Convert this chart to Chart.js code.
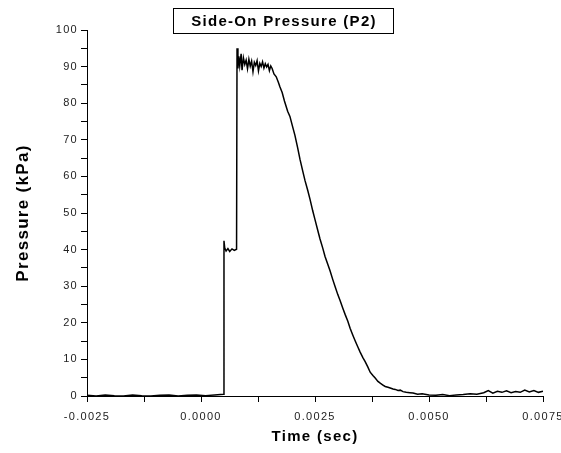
<!DOCTYPE html>
<html><head><meta charset="utf-8">
<script src="https://cdn.jsdelivr.net/npm/chart.js@4/dist/chart.umd.min.js"></script>
<style>html,body{margin:0;padding:0;background:#fff;} #wrap{position:relative;width:561px;height:453px;}</style>
</head><body><div id="wrap"><canvas id="c" width="561" height="453"></canvas></div>
<script>
const chartTitle = "Side-On Pressure (P2)";
const xAxisTitle = "Time (sec)";
const yAxisTitle = "Pressure (kPa)";
const xTickLabels = ["-0.0025", "0.0000", "0.0025", "0.0050", "0.0075"];
const yTickLabels = ["0", "10", "20", "30", "40", "50", "60", "70", "80", "90", "100"];

const timeSec = [
  -0.0025, -0.0023, -0.0021, -0.0019, -0.0017, -0.0015, -0.0013, -0.0011, -0.0009, -0.0007, -0.0005, -0.0003, -0.0001, 0.0001, 0.0003, 0.00049,
  0.000504, 0.00052, 0.00055, 0.00059, 0.00063, 0.00068, 0.00073, 0.00078,
  0.00079, 0.00081, 0.00083, 0.00085, 0.00088, 0.0009, 0.00093, 0.00096, 0.00099, 0.00102, 0.00105, 0.00108, 0.00111, 0.00114, 0.00117, 0.0012, 0.00123, 0.00126, 0.00129, 0.00132, 0.00135, 0.00138, 0.00141, 0.00144, 0.00147, 0.0015, 0.00153, 0.00156,
  0.0016, 0.00165, 0.0017, 0.00173, 0.00178, 0.00183, 0.0019, 0.00195, 0.002, 0.00206, 0.00212, 0.00217, 0.00223, 0.00228, 0.00234, 0.00239, 0.00245, 0.0025, 0.00256, 0.00261, 0.00267, 0.00272, 0.00278, 0.00283, 0.00289, 0.00294, 0.003, 0.00305, 0.00311, 0.00316, 0.00322, 0.00327, 0.00333, 0.00338, 0.00344, 0.00349, 0.00355, 0.0036, 0.00366, 0.00371, 0.00377, 0.00382, 0.00388, 0.00393, 0.00399, 0.00404, 0.0041, 0.00415, 0.00421, 0.00426, 0.00432, 0.00437, 0.00443, 0.0045, 0.00458, 0.00465, 0.00475, 0.00485,
  0.005, 0.00515, 0.0053, 0.00545, 0.0056, 0.00575, 0.0059, 0.00605, 0.0062, 0.0063, 0.0064, 0.0065, 0.0066, 0.0067, 0.0068, 0.0069, 0.007, 0.0071, 0.0072, 0.0073, 0.0074, 0.0075
];
const pressureKPa = [
  0.2, 0.0, 0.3, 0.1, 0.0, 0.3, 0.1, 0.0, 0.2, 0.3, 0.0, 0.2, 0.3, 0.1, 0.3, 0.5,
  42.4, 40.5, 39.6, 40.3, 39.5, 40.2, 39.8, 40.1,
  95.0, 89.5, 92.8, 90.2, 93.5, 89.0, 92.4, 90.6, 91.8, 89.4, 92.0, 90.1, 91.5, 88.6, 91.2, 90.3, 91.6, 88.8, 90.9, 90.0, 91.3, 89.6, 90.8, 89.9, 90.6, 88.9, 90.2, 89.5,
  88.0, 87.2, 85.6, 84.5, 82.9, 80.6, 77.8, 76.4, 74.0, 71.2, 67.8, 64.7, 61.5, 58.9, 56.2, 53.8, 50.6, 48.2, 45.3, 42.9, 40.4, 38.1, 36.0, 34.2, 31.8, 29.9, 27.7, 26.1, 24.0, 22.3, 20.4, 18.5, 16.6, 15.1, 13.4, 12.0, 10.5, 9.4, 7.9, 6.5, 5.6, 4.9, 4.0, 3.5, 3.0, 2.6, 2.4, 2.2, 1.9, 1.8, 1.5, 1.6, 1.2, 1.0, 0.9, 0.8, 0.5, 0.6,
  0.3, 0.2, 0.4, 0.1, 0.3, 0.4, 0.6, 0.5, 0.9, 1.5, 0.8, 1.3, 1.0, 1.4, 0.9, 1.2, 1.0, 1.6, 1.1, 1.5, 1.0, 1.3
];

const points = timeSec.map((t, i) => ({ x: t, y: pressureKPa[i] }));
const FONT = '"Liberation Sans", Arial, sans-serif';
const SPACING = '1.3px';

const spacingPlugin = {
  id: 'spacing',
  beforeUpdate(c) { c.ctx.letterSpacing = SPACING; },
  beforeLayout(c) { c.ctx.letterSpacing = SPACING; },
  beforeDraw(c) { c.ctx.letterSpacing = SPACING; }
};

const boxedTitle = {
  id: 'boxedTitle',
  afterDraw(chart) {
    const ctx = chart.ctx;
    ctx.save();
    ctx.letterSpacing = SPACING;
    ctx.font = 'bold 15px ' + FONT;
    ctx.fillStyle = '#000';
    ctx.textAlign = 'center';
    ctx.textBaseline = 'middle';
    ctx.fillText(chartTitle, 284, 21.5);
    ctx.lineWidth = 1;
    ctx.strokeStyle = '#000';
    ctx.strokeRect(173.5, 8.5, 220, 25);
    ctx.restore();
  }
};

new Chart(document.getElementById('c'), {
  type: 'scatter',
  data: {
    datasets: [{
      data: points,
      showLine: true,
      borderColor: '#000',
      borderWidth: 1.5,
      pointRadius: 0,
      tension: 0,
      fill: false
    }]
  },
  options: {
    responsive: false,
    animation: false,
    layout: { padding: { top: 30, right: 18, left: 0, bottom: 0 } },
    plugins: { legend: { display: false }, tooltip: { enabled: false }, title: { display: false } },
    scales: {
      x: {
        type: 'linear',
        min: -0.0025,
        max: 0.0075,
        afterFit(s) { s.height = 57; s.paddingRight = 0; s.paddingLeft = 0; },
        border: { display: true, color: '#000', width: 1 },
        grid: { drawOnChartArea: false, drawTicks: true, tickLength: 6, color: '#000', tickColor: '#000' },
        ticks: {
          stepSize: 0.00125,
          autoSkip: false,
          maxRotation: 0,
          padding: 8,
          color: '#222',
          font: { family: FONT, size: 11 },
          callback: (v, i) => (i % 2 === 0 ? xTickLabels[i / 2] : '')
        },
        title: { display: true, text: xAxisTitle, color: '#000', font: { family: FONT, size: 15, weight: 'bold' }, padding: { top: 7, bottom: 7 } }
      },
      y: {
        type: 'linear',
        min: 0,
        max: 100,
        afterFit(s) { s.width = 87; s.paddingTop = 0; s.paddingBottom = 0; },
        border: { display: true, color: '#000', width: 1 },
        grid: { drawOnChartArea: false, drawTicks: true, tickLength: 6, color: '#000', tickColor: '#000' },
        ticks: {
          stepSize: 5,
          autoSkip: false,
          padding: 3,
          color: '#222',
          font: { family: FONT, size: 11 },
          callback: (v, i) => (i % 2 === 0 ? yTickLabels[i / 2] : '')
        },
        title: { display: true, text: yAxisTitle, color: '#000', font: { family: FONT, size: 17, weight: 'bold' }, padding: { top: 13, bottom: 13 } }
      }
    }
  },
  plugins: [spacingPlugin, boxedTitle]
});
</script></body></html>
